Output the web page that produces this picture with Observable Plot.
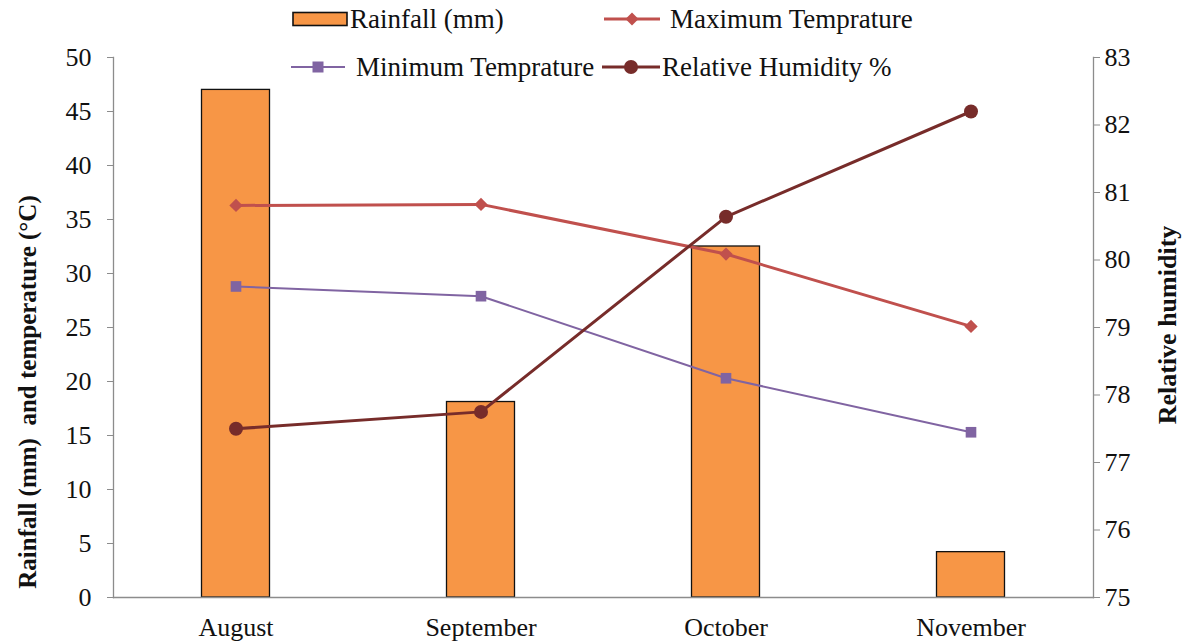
<!DOCTYPE html>
<html>
<head>
<meta charset="utf-8">
<script src="https://cdn.jsdelivr.net/npm/d3@7"></script>
<script src="https://cdn.jsdelivr.net/npm/@observablehq/plot@0.6"></script>
<style>
  html, body { margin: 0; padding: 0; background: #fff; }
  #wrap { position: relative; width: 1196px; height: 642px; font-family: "Liberation Serif", "Times New Roman", serif; color: #111; overflow: hidden; }
  #chart { position: absolute; left: 0; top: 0; }
  .ttl { position: absolute; font-weight: bold; white-space: pre; transform: translate(-50%, -50%) rotate(-90deg); line-height: 1; }
  .leg { position: absolute; display: flex; align-items: center; font-size: 27px; white-space: nowrap; height: 32px; line-height: 1; }
  .leg svg { display: block; }
</style>
</head>
<body>
<div id="wrap">
  <div id="chart"></div>
  <div class="ttl" style="left:27px; top:392px; font-size:25px;">Rainfall (mm)  and temperature (°C)</div>
  <div class="ttl" style="left:1168px; top:325px; font-size:26px;">Relative humidity</div>
  <div id="legend"></div>
</div>
<script>
const months = ["August", "September", "October", "November"];
const rainfall = [47.0, 18.1, 32.5, 4.2];
const maxTemp = [36.3, 36.4, 31.8, 25.1];
const minTemp = [28.8, 27.9, 20.3, 15.3];
const humidity = [77.5, 77.75, 80.64, 82.2];
const leftTicks = [0, 5, 10, 15, 20, 25, 30, 35, 40, 45, 50];
const rightTicks = [75, 76, 77, 78, 79, 80, 81, 82, 83];

const colors = { rain: "#F79646", max: "#C0504D", min: "#8064A2", hum: "#772C2A" };

// humidity axis (75..83) mapped onto the left scale (0..50)
const hToY = h => (h - 75) * 50 / 8;
const yToH = y => 75 + y * 8 / 50;

const data = months.map((m, i) => ({
  month: m, rain: rainfall[i], max: maxTemp[i], min: minTemp[i], hum: humidity[i], humY: hToY(humidity[i])
}));

const font = "Liberation Serif, Times New Roman, serif";

const chart = Plot.plot({
  width: 1196,
  height: 642,
  marginTop: 57,
  marginBottom: 45,
  marginLeft: 113,
  marginRight: 103,
  style: { fontFamily: font, fontSize: "26px", color: "#111", background: "#fff" },
  x: { domain: months, padding: 0 },
  y: { domain: [0, 50] },
  marks: [
    Plot.barY(data, { x: "month", y: "rain", fill: colors.rain, stroke: "#111", strokeWidth: 1.3, insetLeft: 88.5, insetRight: 88.5 }),
    Plot.frame({ anchor: "left", stroke: "#8c8c8c", strokeWidth: 1.3 }),
    Plot.frame({ anchor: "right", stroke: "#8c8c8c", strokeWidth: 1.3 }),
    Plot.frame({ anchor: "bottom", stroke: "#8c8c8c", strokeWidth: 1.3 }),
    Plot.axisY(leftTicks, { anchor: "left", tickSize: 6, tickPadding: 16, stroke: "#8c8c8c", label: null, fill: "#111" }),
    Plot.axisY(rightTicks.map(hToY), { anchor: "right", tickSize: 6, tickPadding: 5, stroke: "#8c8c8c", label: null, fill: "#111", tickFormat: d => Math.round(yToH(d)) }),
    Plot.axisX({ anchor: "bottom", tickSize: 0, tickPadding: 20, label: null, fill: "#111" }),
    Plot.line(data, { x: "month", y: "max", stroke: colors.max, strokeWidth: 3 }),
    Plot.dot(data, { x: "month", y: "max", symbol: "diamond2", r: 6, fill: colors.max }),
    Plot.line(data, { x: "month", y: "min", stroke: colors.min, strokeWidth: 2 }),
    Plot.dot(data, { x: "month", y: "min", symbol: "square", r: 6, fill: colors.min }),
    Plot.line(data, { x: "month", y: "humY", stroke: colors.hum, strokeWidth: 3 }),
    Plot.dot(data, { x: "month", y: "humY", symbol: "circle", r: 7, fill: colors.hum })
  ]
});
document.getElementById("chart").appendChild(chart);

// Legend (HTML overlay)
const legendItems = [
  { label: "Rainfall (mm)", type: "bar", color: colors.rain, left: 292, cy: 19, sw: 57, gap: 1 },
  { label: "Maximum Temprature", type: "diamond", color: colors.max, left: 604, cy: 19, sw: 56, gap: 10 },
  { label: "Minimum Temprature", type: "square", color: colors.min, left: 291, cy: 67, sw: 54, gap: 11 },
  { label: "Relative Humidity %", type: "circle", color: colors.hum, left: 602, cy: 67, sw: 58, gap: 2 }
];
const legend = document.getElementById("legend");
for (const it of legendItems) {
  const div = document.createElement("div");
  div.className = "leg";
  div.style.left = it.left + "px";
  div.style.top = (it.cy - 16) + "px";
  const w = it.sw, h = 20, cx = w / 2, cy = h / 2;
  let g = "";
  if (it.type === "bar") {
    g = `<rect x="1" y="${cy - 6.5}" width="${w - 3}" height="13" fill="${it.color}" stroke="#111" stroke-width="1.6"/>`;
  } else {
    g = `<line x1="0" x2="${w}" y1="${cy}" y2="${cy}" stroke="${it.color}" stroke-width="${it.type === "square" ? 2 : 3}"/>`;
    if (it.type === "diamond") g += `<path d="M${cx},${cy - 6.5}L${cx + 6.5},${cy}L${cx},${cy + 6.5}L${cx - 6.5},${cy}Z" fill="${it.color}"/>`;
    if (it.type === "square") g += `<rect x="${cx - 5.5}" y="${cy - 5.5}" width="11" height="11" fill="${it.color}"/>`;
    if (it.type === "circle") g += `<circle cx="${cx}" cy="${cy}" r="7" fill="${it.color}"/>`;
  }
  div.innerHTML = `<svg width="${w}" height="${h}">${g}</svg><span style="margin-left:${it.gap}px">${it.label}</span>`;
  legend.appendChild(div);
}
</script>
</body>
</html>
